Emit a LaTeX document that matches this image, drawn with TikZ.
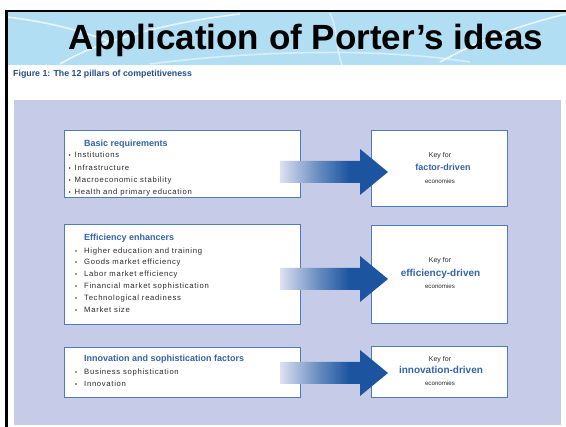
\documentclass[tikz,border=0pt]{standalone}
\usepackage{fontspec}
\setmainfont{Liberation Sans}
\newfontfamily\itemfont[LetterSpace=9]{Liberation Sans}
\usetikzlibrary{calc}
\definecolor{lav}{HTML}{C6CCE8}
\definecolor{band}{HTML}{B2DEF4}
\definecolor{arrowblue}{HTML}{1C54A0}
\definecolor{headblue}{HTML}{3464A8}
\definecolor{boxblue}{HTML}{4E7CBA}
\definecolor{capblue}{HTML}{234F8C}
\definecolor{itemgray}{HTML}{2A2A2A}
\colorlet{shadeA}{white}
\colorlet{shadeB}{lav!60!white}
\colorlet{shadeC}{arrowblue!65!white}
\pgfdeclarehorizontalshading{arrowshade}{100bp}{color(0bp)=(shadeA); color(25bp)=(shadeB); color(42bp)=(shadeC); color(57bp)=(arrowblue); color(100bp)=(arrowblue)}
\tikzset{
  pbox/.style={draw=boxblue, line width=1pt, fill=white, rectangle, inner sep=0pt, anchor=north west},
  hd/.style={anchor=base west, inner sep=0pt, text=headblue, font=\bfseries\fontsize{9}{10}\selectfont},
  itm/.style={anchor=base west, inner sep=0pt, text=itemgray, font=\itemfont\fontsize{7.7}{9}\selectfont},
  bul/.style={anchor=base west, inner sep=0pt, text=itemgray, font=\fontsize{6}{8}\selectfont},
  keyt/.style={anchor=base, inner sep=0pt, text=itemgray, font=\fontsize{7}{8}\selectfont},
  drv/.style={anchor=base, inner sep=0pt, text=headblue, font=\bfseries\fontsize{10}{11}\selectfont},
  eco/.style={anchor=base, inner sep=0pt, text=itemgray, font=\fontsize{6.2}{7}\selectfont},
  swoosh/.style={white, line width=1.6pt, opacity=0.7},
}
\newcommand{\blockarrow}[2]{%
  \path[shading=arrowshade] let \p1=(#1), \p2=(#2) in
    (\x1,\y1+11pt) -- (\x2-28pt,\y1+11pt) -- (\x2-28pt,\y1+23pt) -- (\x2,\y1)
    -- (\x2-28pt,\y1-23pt) -- (\x2-28pt,\y1-11pt) -- (\x1,\y1-11pt) -- cycle;}
\begin{document}
\begin{tikzpicture}[x=1pt,y=-1pt]
\useasboundingbox (0,0) rectangle (566,427);
\fill[white] (0,0) rectangle (566,427);
% title band
\fill[band] (7,12) rectangle (566,65);
\draw[swoosh] (7,17) .. controls (40,21) and (75,28) .. (110,42);
\draw[swoosh] (60,64) .. controls (100,40) and (170,22) .. (240,14);
\draw[swoosh, opacity=0.5] (330,13) .. controls (338,30) and (336,50) .. (342,65);
\draw[swoosh, opacity=0.5] (150,64) .. controls (260,50) and (380,48) .. (470,62);
\draw[swoosh] (440,62) .. controls (480,40) and (520,25) .. (566,14);
\draw[line width=2.5pt] (6.5,440) -- (6.5,11) -- (580,11);
\node[anchor=base, inner sep=0pt, font=\bfseries\fontsize{35}{40}\selectfont] (title) at (306,50) {Application of Porter’s ideas};
\node[anchor=base west, inner sep=0pt, text=capblue, font=\bfseries\fontsize{8.8}{10}\selectfont] (cap) at (13,76.5) {Figure 1: The 12 pillars of competitiveness};
% panel
\fill[lav] (14,100) rectangle (561,425);
% boxes
\node[pbox, minimum width=236pt, minimum height=67pt] (b1) at (64,130) {};
\node[pbox, minimum width=236pt, minimum height=100pt] (b2) at (64,224) {};
\node[pbox, minimum width=236pt, minimum height=50pt] (b3) at (64,347) {};
\node[pbox, minimum width=136pt, minimum height=76pt] (k1) at (371,130) {};
\node[pbox, minimum width=136pt, minimum height=98pt] (k2) at (371,225) {};
\node[pbox, minimum width=136pt, minimum height=51pt] (k3) at (371,346) {};
% arrows
\coordinate (a1s) at (280,172); \coordinate (a1t) at (388,172);
\coordinate (a2s) at (280,279); \coordinate (a2t) at (388,279);
\coordinate (a3s) at (280,373); \coordinate (a3t) at (388,373);
\blockarrow{a1s}{a1t}
\blockarrow{a2s}{a2t}
\blockarrow{a3s}{a3t}
% box 1 text
\node[hd] (h1) at (84,146.5) {Basic requirements};
\foreach \t/\y in {Institutions/157.7, Infrastructure/170.5, Macroeconomic stability/183, Health and primary education/194.7}{
  \node[bul] at (68.5,\y) {•};
  \node[itm] at (74.5,\y) {\t};
}
% box 2 text
\node[hd] (h2) at (84,241) {Efficiency enhancers};
\foreach \t/\y in {Higher education and training/253.3, Goods market efficiency/265, Labor market efficiency/276.7, Financial market sophistication/289, Technological readiness/300.7, Market size/312.3}{
  \node[bul] at (75,\y) {•};
  \node[itm] at (84,\y) {\t};
}
% box 3 text
\node[hd] (h3) at (84,361.7) {Innovation and sophistication factors};
\foreach \t/\y in {Business sophistication/374.3, Innovation/386.7}{
  \node[bul] at (75,\y) {•};
  \node[itm] at (84,\y) {\t};
}
% right boxes text
\node[keyt] at (440,157.7) {Key for};
\node[drv, font=\bfseries\fontsize{9}{10}\selectfont] at (443,170.7) {factor-driven};
\node[eco] at (440,183.3) {economies};
\node[keyt] at (440,262.3) {Key for};
\node[drv] at (440.5,276.7) {efficiency-driven};
\node[eco] at (440,289) {economies};
\node[keyt] at (440,361.7) {Key for};
\node[drv] at (441,373.5) {innovation-driven};
\node[eco] at (440,386) {economies};
\end{tikzpicture}
\end{document}
